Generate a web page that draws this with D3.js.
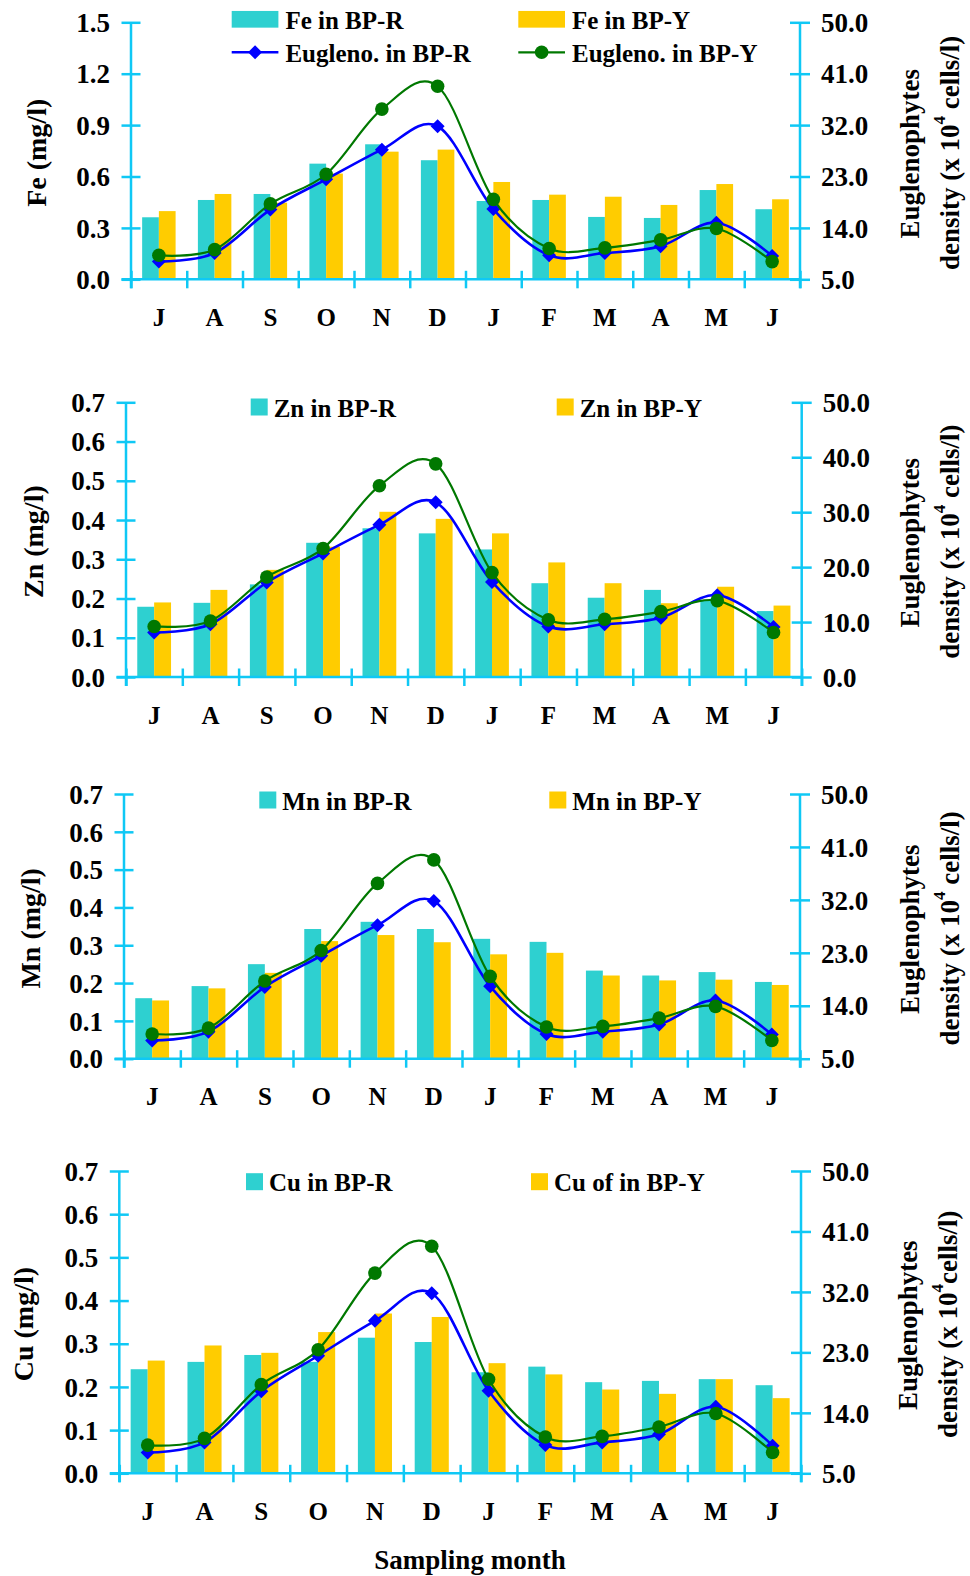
<!DOCTYPE html>
<html>
<head>
<meta charset="utf-8">
<script src="https://cdn.jsdelivr.net/npm/d3@7"></script>
<style>
  html, body { margin: 0; padding: 0; background: #fff; }
  svg { display: block; }
  text { font-family: "Liberation Serif", "Times New Roman", serif; font-weight: bold; fill: #000; }
</style>
</head>
<body>
<div id="chart"></div>
<script>
// Sampling months (July to June)
const months = ["J", "A", "S", "O", "N", "D", "J", "F", "M", "A", "M", "J"];

// Heavy metal concentrations (mg/l) at the two ponds
const feBPR = [0.362, 0.463, 0.498, 0.675, 0.788, 0.695, 0.457, 0.463, 0.364, 0.358, 0.521, 0.409];
const feBPY = [0.398, 0.498, 0.447, 0.617, 0.745, 0.757, 0.568, 0.494, 0.482, 0.434, 0.556, 0.467];
const znBPR = [0.179, 0.189, 0.236, 0.342, 0.379, 0.366, 0.325, 0.239, 0.202, 0.222, 0.196, 0.168];
const znBPY = [0.190, 0.222, 0.273, 0.332, 0.421, 0.403, 0.366, 0.292, 0.239, 0.188, 0.230, 0.182];
const mnBPR = [0.160, 0.192, 0.250, 0.343, 0.362, 0.343, 0.317, 0.309, 0.233, 0.220, 0.229, 0.203];
const mnBPY = [0.154, 0.186, 0.227, 0.311, 0.327, 0.308, 0.276, 0.280, 0.220, 0.207, 0.209, 0.195];
const cuBPR = [0.241, 0.258, 0.274, 0.258, 0.314, 0.304, 0.234, 0.247, 0.211, 0.214, 0.218, 0.204];
const cuBPY = [0.261, 0.296, 0.279, 0.327, 0.370, 0.362, 0.255, 0.229, 0.194, 0.184, 0.218, 0.174];

// Euglenophytes density (x 10^4 cells/l)
const euglenoBPR = [8.1, 9.6, 17.2, 22.5, 27.7, 31.8, 17.3, 9.2, 9.6, 10.8, 14.9, 9.1];
const euglenoBPY = [9.2, 10.2, 18.2, 23.4, 34.8, 38.8, 19.0, 10.4, 10.5, 11.9, 13.9, 8.1];

// Axis tick values
const feTicks = [0, 0.3, 0.6, 0.9, 1.2, 1.5];
const metalTicks = [0, 0.1, 0.2, 0.3, 0.4, 0.5, 0.6, 0.7];
const densityTicksA = [5, 14, 23, 32, 41, 50];
const densityTicksB = [0, 10, 20, 30, 40, 50];

const COL_R = "#2ed0d0";
const COL_Y = "#ffcc00";
const COL_AXIS = "#0fc8f5";
const COL_BLUE = "#0000ff";
const COL_GREEN = "#007800";

const panels = [
  { el: "Fe", barsR: feBPR, barsY: feBPY, yTicks: feTicks, dTicks: densityTicksA,
    L: 131, R: 800, T: 22.3, B: 279.3, titleX: 36, eTitleX: 910, dTitleX: 950,
    labelR: "Fe in BP-R", labelY: "Fe in BP-Y", full: true, sup: " ",
    leg: { x1: 231.7, x2: 518.3, y1: 19.3, y2: 52.3, w: 46.7 } },
  { el: "Zn", barsR: znBPR, barsY: znBPY, yTicks: metalTicks, dTicks: densityTicksB,
    L: 126, R: 801.7, T: 402.3, B: 677, titleX: 33, eTitleX: 910, dTitleX: 950,
    labelR: "Zn in BP-R", labelY: "Zn in BP-Y", full: false, sup: " ",
    leg: { x1: 250.7, x2: 556.7, y1: 407, w: 17 } },
  { el: "Mn", barsR: mnBPR, barsY: mnBPY, yTicks: metalTicks, dTicks: densityTicksA,
    L: 124, R: 800, T: 794, B: 1058.7, titleX: 30, eTitleX: 910, dTitleX: 950,
    labelR: "Mn in BP-R", labelY: "Mn in BP-Y", full: false, sup: " ",
    leg: { x1: 259.3, x2: 549.3, y1: 800, w: 17 } },
  { el: "Cu", barsR: cuBPR, barsY: cuBPY, yTicks: metalTicks, dTicks: densityTicksA,
    L: 119.3, R: 801, T: 1171, B: 1473.3, titleX: 23, eTitleX: 908, dTitleX: 948,
    labelR: "Cu in BP-R", labelY: "Cu of in BP-Y", full: false, sup: "",
    leg: { x1: 246, x2: 531, y1: 1181.7, w: 17 } }
];

const svg = d3.select("#chart").append("svg")
  .attr("width", 970).attr("height", 1576);
svg.append("rect").attr("width", 970).attr("height", 1576).attr("fill", "#fff");

function diamond(g, cx, cy, s) {
  g.append("path")
    .attr("d", `M${cx},${cy - s}L${cx + s},${cy}L${cx},${cy + s}L${cx - s},${cy}Z`)
    .attr("fill", COL_BLUE);
}

panels.forEach(p => {
  const g = svg.append("g");
  const idx = d3.range(12);
  const x = d3.scaleBand().domain(idx).range([p.L, p.R]).padding(0);
  const xb = d3.scaleLinear().domain([0, 12]).range([p.L, p.R]);
  const bw = x.bandwidth();
  const xi = d3.scaleBand().domain(["R", "Y"]).range([bw * 0.2, bw * 0.8]);
  const yMax = p.yTicks[p.yTicks.length - 1];
  const y = d3.scaleLinear().domain([0, yMax]).range([p.B, p.T]);
  const y2 = d3.scaleLinear().domain([p.dTicks[0], 50]).range([p.B, p.T]);

  // bars
  const series = [{ k: "R", v: p.barsR, c: COL_R }, { k: "Y", v: p.barsY, c: COL_Y }];
  series.forEach(s => {
    g.append("g").selectAll("rect").data(s.v).join("rect")
      .attr("x", (d, i) => x(i) + xi(s.k))
      .attr("y", d => y(d))
      .attr("width", xi.bandwidth())
      .attr("height", d => p.B - y(d))
      .attr("fill", s.c);
  });

  // left axis
  const axL = g.append("g").attr("transform", `translate(${p.L},0)`)
    .call(d3.axisLeft(y).tickValues(p.yTicks).tickFormat(d3.format(".1f")).tickSize(0).tickPadding(21));
  axL.select(".domain").remove();
  axL.selectAll(".tick text").attr("font-size", 27).attr("dy", "0.34em")
    .style("font-family", "'Liberation Serif', serif").style("font-weight", "bold");
  axL.selectAll(".tick").append("line")
    .attr("x1", -9.5).attr("x2", 9.5).attr("stroke", COL_AXIS).attr("stroke-width", 2.5);
  g.append("line").attr("x1", p.L).attr("x2", p.L).attr("y1", p.T).attr("y2", p.B + 9)
    .attr("stroke", COL_AXIS).attr("stroke-width", 2.5);

  // right axis
  const axR = g.append("g").attr("transform", `translate(${p.R},0)`)
    .call(d3.axisRight(y2).tickValues(p.dTicks).tickFormat(d3.format(".1f")).tickSize(0).tickPadding(21));
  axR.select(".domain").remove();
  axR.selectAll(".tick text").attr("font-size", 27).attr("dy", "0.34em")
    .style("font-family", "'Liberation Serif', serif").style("font-weight", "bold");
  axR.selectAll(".tick").append("line")
    .attr("x1", -10).attr("x2", 10).attr("stroke", COL_AXIS).attr("stroke-width", 2.5);
  g.append("line").attr("x1", p.R).attr("x2", p.R).attr("y1", p.T).attr("y2", p.B + 9)
    .attr("stroke", COL_AXIS).attr("stroke-width", 2.5);

  // bottom axis: boundary ticks and month labels
  g.append("line").attr("x1", p.L - 9.5).attr("x2", p.R).attr("y1", p.B).attr("y2", p.B)
    .attr("stroke", COL_AXIS).attr("stroke-width", 2.5);
  const axB = g.append("g").attr("transform", `translate(0,${p.B})`)
    .call(d3.axisBottom(xb).tickValues(d3.range(13)).tickFormat("").tickSize(0));
  axB.select(".domain").remove();
  axB.selectAll(".tick").append("line")
    .attr("y1", -8.5).attr("y2", 9).attr("stroke", COL_AXIS).attr("stroke-width", 2.5);
  const axM = g.append("g").attr("transform", `translate(0,${p.B})`)
    .call(d3.axisBottom(x).tickFormat(i => months[i]).tickSize(0).tickPadding(0));
  axM.select(".domain").remove();
  axM.selectAll(".tick text").attr("font-size", 25).attr("y", 38).attr("dy", "0.34em")
    .style("font-family", "'Liberation Serif', serif").style("font-weight", "bold");

  // Euglenophytes density lines
  const cx = i => x(i) + bw / 2;
  const line = d3.line().x((d, i) => cx(i)).y(d => y2(d)).curve(d3.curveCardinal.tension(0));
  g.append("path").datum(euglenoBPR).attr("d", line)
    .attr("fill", "none").attr("stroke", COL_BLUE).attr("stroke-width", 2.6);
  euglenoBPR.forEach((d, i) => diamond(g, cx(i), y2(d), 7));
  g.append("path").datum(euglenoBPY).attr("d", line)
    .attr("fill", "none").attr("stroke", COL_GREEN).attr("stroke-width", 2.2);
  g.append("g").selectAll("circle").data(euglenoBPY).join("circle")
    .attr("cx", (d, i) => cx(i)).attr("cy", d => y2(d)).attr("r", 6.8).attr("fill", COL_GREEN);

  // axis titles
  const midY = (p.T + p.B) / 2;
  g.append("text").attr("transform", `translate(${p.titleX},${midY + 2}) rotate(-90)`)
    .attr("text-anchor", "middle").attr("dominant-baseline", "central")
    .attr("font-size", 28).text(`${p.el} (mg/l)`);
  g.append("text").attr("transform", `translate(${p.eTitleX},${midY + 3}) rotate(-90)`)
    .attr("text-anchor", "middle").attr("dominant-baseline", "central")
    .attr("font-size", 27).text("Euglenophytes");
  const dt = g.append("text").attr("transform", `translate(${p.dTitleX},${midY + 2}) rotate(-90)`)
    .attr("text-anchor", "middle").attr("dominant-baseline", "central")
    .attr("font-size", 27);
  dt.append("tspan").text("density (x 10");
  dt.append("tspan").attr("font-size", 17).attr("dy", -11).text("4");
  dt.append("tspan").attr("dy", 11).text(`${p.sup}cells/l)`);

  // legend
  const lg = p.leg;
  const legText = (tx, ty, t) => g.append("text").attr("x", tx).attr("y", ty)
    .attr("dominant-baseline", "central").attr("font-size", 25).text(t);
  if (p.full) {
    const h = 16.7;
    g.append("rect").attr("x", lg.x1).attr("y", lg.y1 - h / 2).attr("width", lg.w).attr("height", h).attr("fill", COL_R);
    legText(lg.x1 + lg.w + 7, lg.y1 + 1, p.labelR);
    g.append("rect").attr("x", lg.x2).attr("y", lg.y1 - h / 2).attr("width", lg.w).attr("height", h).attr("fill", COL_Y);
    legText(lg.x2 + lg.w + 7, lg.y1 + 1, p.labelY);
    g.append("line").attr("x1", lg.x1).attr("x2", lg.x1 + lg.w).attr("y1", lg.y2).attr("y2", lg.y2)
      .attr("stroke", COL_BLUE).attr("stroke-width", 2.6);
    diamond(g, lg.x1 + lg.w / 2, lg.y2, 7);
    legText(lg.x1 + lg.w + 7, lg.y2 + 1, "Eugleno. in BP-R");
    g.append("line").attr("x1", lg.x2).attr("x2", lg.x2 + lg.w).attr("y1", lg.y2).attr("y2", lg.y2)
      .attr("stroke", COL_GREEN).attr("stroke-width", 2.2);
    g.append("circle").attr("cx", lg.x2 + lg.w / 2).attr("cy", lg.y2).attr("r", 6.8).attr("fill", COL_GREEN);
    legText(lg.x2 + lg.w + 7, lg.y2 + 1, "Eugleno. in BP-Y");
  } else {
    g.append("rect").attr("x", lg.x1).attr("y", lg.y1 - lg.w / 2).attr("width", lg.w).attr("height", lg.w).attr("fill", COL_R);
    legText(lg.x1 + lg.w + 6, lg.y1 + 1, p.labelR);
    g.append("rect").attr("x", lg.x2).attr("y", lg.y1 - lg.w / 2).attr("width", lg.w).attr("height", lg.w).attr("fill", COL_Y);
    legText(lg.x2 + lg.w + 6, lg.y1 + 1, p.labelY);
  }
});

svg.append("text").attr("x", 470).attr("y", 1560).attr("text-anchor", "middle")
  .attr("dominant-baseline", "central").attr("font-size", 27).text("Sampling month");
</script>
</body>
</html>
